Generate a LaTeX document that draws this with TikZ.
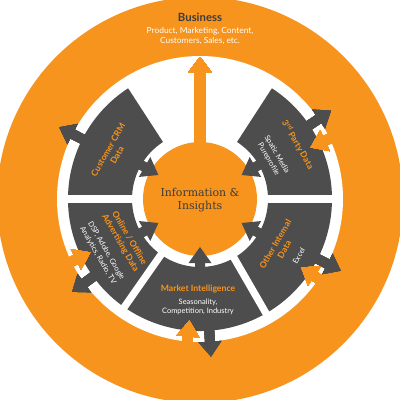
\documentclass[tikz,border=0pt]{standalone}
\usepackage{fontspec}
\setmainfont{Lato}
\newfontfamily\slabfont{DejaVu Serif}
\usetikzlibrary{positioning}

\definecolor{hubOrange}{RGB}{247,148,30}
\definecolor{hubGrey}{RGB}{77,77,77}
\definecolor{hubText}{RGB}{60,60,60}

\tikzset{every picture/.style={line width=0.75pt}}
\tikzset{
  sector title/.style={font=\bfseries\fontsize{6.5}{7.8}\selectfont, text=hubOrange, align=center, inner sep=0.75pt},
  sector note/.style={font=\fontsize{5.6}{7.2}\selectfont, text=white, align=center, inner sep=0.75pt},
  gap line/.style={draw=white, line width=5.5pt},
}

% ray arrow: colour, angle, tail radius, head base radius, tip radius
\newcommand{\rayarrow}[5]{%
  \fill [#1, rotate=#2] (#3,-5) -- (#4,-5) -- (#4,-11.5) -- (#5,0) -- (#4,11.5) -- (#4,5) -- (#3,5) -- cycle;}

\begin{document}
\begin{tikzpicture}[x=0.75pt,y=0.75pt,yscale=-1,xscale=1]
\useasboundingbox (0,0) rectangle (400,400);

%Shape: Circle [id:outer]
\fill [hubOrange] (200,200) circle (203);
%Shape: Circle [id:ring]
\fill [white] (200,199) circle (143);

\begin{scope}[shift={(200,199)},yscale=-1]
%Shape: Arc [id:sectors]
\fill [hubGrey] (123:132) arc (123:417:132) -- (417:68) arc (417:123:68) -- cycle;
%Straight Lines [id:gaps]
\foreach \a in {0,180,235,300}
  \draw [gap line] (\a:60) -- (\a:139);
%Shape: Circle [id:core]
\fill [hubOrange] (0,0) circle (57);

% arrows into the core
\foreach \a in {30,150,210,270,330}
  \rayarrow{hubGrey}{\a}{76}{64}{48}
% arrows out to the business ring
\foreach \a in {34,153,216,274,333}
  \rayarrow{hubGrey}{\a}{124}{143}{158}
% arrows back from the business ring
\foreach \a in {25,206,265,326}
  \rayarrow{hubOrange}{\a}{152}{138}{122}
%Shape: Arrow [id:business]
\fill [hubOrange] (-5.5,50) -- (-5.5,127) -- (-11.5,127) -- (0,142) -- (11.5,127) -- (5.5,127) -- (5.5,50) -- cycle;

% Text Node
\node (crm) [sector title, rotate=60] at (152:99) {Customer CRM\\Data};
% Text Node
\node (third) [sector title, rotate=-60] at (29:112) {3\textsuperscript{rd} Party Data};
% Text Node
\node (thirdnote) [sector note, rotate=-60] at (30:84) {Spatic Media\\Pureprofile};
% Text Node
\node (internal) [sector title, rotate=60] at (-31:93) {Other Internal\\Data};
% Text Node
\node (internalnote) [sector note, rotate=60] at (-30:114) {Excel};
% Text Node
\node (advert) [sector title, rotate=-60] at (209:86) {Online / Offline\\Advertising Data};
% Text Node
\node (advertnote) [sector note, rotate=-60] at (209:112) {DSP, Adobe, Google\\Analytics, Radio, TV};
\end{scope}

% Text Node
\node (market) [sector title] at (198,289) {Market Intelligence};
% Text Node
\node (marketnote) [sector note, below=2pt of market] {Seasonality,\\Competition, Industry};
% Text Node
\node (insight) [font=\slabfont\fontsize{8.2}{10}\selectfont, text=hubText, align=center] at (200,200) {Information \&\\Insights};
% Text Node
\node (business) [font=\bfseries\fontsize{8.5}{10}\selectfont, text=hubText] at (200,17) {Business};
% Text Node
\node (businessnote) [sector note, font=\fontsize{6.3}{7.2}\selectfont] at (200,36) {Product, Marketing, Content,\\Customers, Sales, etc.};
\end{tikzpicture}
\end{document}
